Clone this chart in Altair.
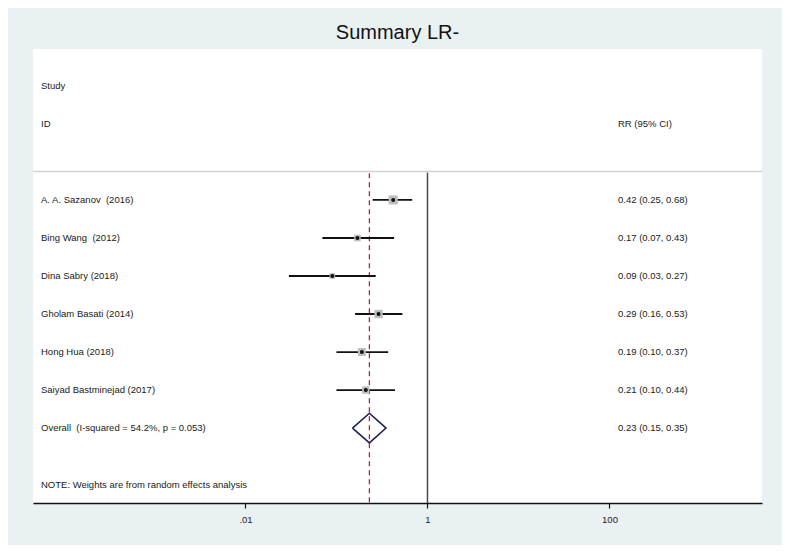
import altair as alt
import pandas as pd

# ---- data ----
studies = ["A. A. Sazanov  (2016)", "Bing Wang  (2012)", "Dina Sabry (2018)",
           "Gholam Basati (2014)", "Hong Hua (2018)", "Saiyad Bastminejad (2017)"]
rr = [0.42, 0.17, 0.09, 0.29, 0.19, 0.21]
lo = [0.25, 0.07, 0.03, 0.16, 0.10, 0.10]
hi = [0.68, 0.43, 0.27, 0.53, 0.37, 0.44]
weights = [23.6, 12.4, 9.4, 20.2, 18.5, 15.9]

overall_label = "Overall  (I-squared = 54.2%, p = 0.053)"
overall_rr, overall_lo, overall_hi = 0.23, 0.15, 0.35
note = "NOTE: Weights are from random effects analysis"
tick_values = [0.01, 1, 100]
tick_labels = [".01", "1", "100"]

FONT = "Liberation Sans"
FS = 9.5


def keep_spaces(s):
    # SVG collapses runs of spaces; keep the double spaces visible
    return s.replace("  ", " \u00a0")


rows = list(range(len(studies)))
overall_row = len(studies)

df = pd.DataFrame({"study": studies, "rr": rr, "lo": lo, "hi": hi,
                   "w": weights, "row": rows})
df["txt"] = [f"{a:.2f} ({b:.2f}, {c:.2f})" for a, b, c in zip(rr, lo, hi)]

df_all = pd.DataFrame({
    "label": [keep_spaces(s) for s in studies + [overall_label]],
    "txt": list(df["txt"]) + [f"{overall_rr:.2f} ({overall_lo:.2f}, {overall_hi:.2f})"],
    "row": rows + [overall_row],
})

dia = pd.DataFrame({
    "x": [overall_lo, overall_rr, overall_hi, overall_rr, overall_lo],
    "y": [overall_row, overall_row - 0.39, overall_row, overall_row + 0.39, overall_row],
    "o": [0, 1, 2, 3, 4],
})

xscale = alt.Scale(type="log", domain=[10 ** -4.335, 10 ** 3.676], nice=False)
yscale = alt.Scale(domain=[-3.97, 7.97], reverse=True, nice=False, zero=False)

label_expr = " : ".join(
    [f"datum.value == {v} ? '{l}'" for v, l in zip(tick_values, tick_labels)] + ["''"]
)
xaxis = alt.Axis(values=tick_values, labelExpr=label_expr, grid=False, title=None,
                 domainColor="#111", domainWidth=1.5, tickColor="#111", tickSize=5,
                 tickWidth=1.2, labelFont=FONT, labelFontSize=FS, labelColor="#222",
                 labelPadding=6)


def X(f):
    return alt.X(f, scale=xscale, axis=xaxis)


def Y(f):
    return alt.Y(f, scale=yscale, axis=None)


base = alt.Chart(df)

vline = alt.Chart(pd.DataFrame({"x": [1.0], "y": [-0.72], "y2": [7.97]})).mark_rule(
    color="#4a4a4a", strokeWidth=1.5).encode(
    x=X("x:Q"), y=Y("y:Q"), y2="y2:Q")

sep = alt.Chart(pd.DataFrame({"r": [-0.75]})).mark_rule(
    color="#d2d2d2", strokeWidth=1.5).encode(
    x=alt.value(0), x2=alt.value(729), y=Y("r:Q"))

rline = alt.Chart(pd.DataFrame({"x": [overall_rr], "y": [-0.7], "y2": [7.97]})).mark_rule(
    color="#b0282a", strokeWidth=1.3, strokeDash=[5, 4]).encode(
    x=X("x:Q"), y=Y("y:Q"), y2="y2:Q")

ci = base.mark_rule(color="#111", strokeWidth=1.8).encode(
    x=X("lo:Q"), x2="hi:Q", y=Y("row:Q"))

squares = base.mark_square(color="#bdbdbd", opacity=1).encode(
    x=X("rr:Q"), y=Y("row:Q"),
    size=alt.Size("w:Q", scale=alt.Scale(domain=[0, 25], range=[0, 86]), legend=None))

dots = base.mark_circle(color="#111", opacity=1, size=16).encode(
    x=X("rr:Q"), y=Y("row:Q"))

diamond = alt.Chart(dia).mark_line(color="#1f2060", strokeWidth=1.6).encode(
    x=X("x:Q"), y=Y("y:Q"), order="o:Q")

txt_kw = dict(align="left", baseline="middle", font=FONT, fontSize=FS, color="#1a1a1a")

labels = alt.Chart(df_all).mark_text(**txt_kw).encode(
    x=alt.value(8), y=Y("row:Q"), text="label:N")

vals = alt.Chart(df_all).mark_text(**txt_kw).encode(
    x=alt.value(585), y=Y("row:Q"), text="txt:N")

hdr_left = alt.Chart(pd.DataFrame({"t": ["Study", "ID"], "row": [-3, -2]})).mark_text(
    **txt_kw).encode(x=alt.value(8), y=Y("row:Q"), text="t:N")

hdr_right = alt.Chart(pd.DataFrame({"t": ["RR (95% CI)"], "row": [-2]})).mark_text(
    **txt_kw).encode(x=alt.value(585), y=Y("row:Q"), text="t:N")

note_t = alt.Chart(pd.DataFrame({"t": [note], "row": [7.5]})).mark_text(
    **txt_kw).encode(x=alt.value(8), y=Y("row:Q"), text="t:N")

chart = alt.layer(
    vline, sep, rline, ci, squares, dots, diamond, labels, vals, hdr_left, hdr_right, note_t
).properties(
    width=729, height=454,
    title=alt.Title("Summary LR-", fontSize=20, font=FONT, fontWeight="normal",
                    color="#111", anchor="middle", offset=6),
    autosize=alt.AutoSizeParams(type="none"),
    padding={"left": 25, "top": 41, "right": 20, "bottom": 42},
    background="#eaf1f3",
).configure_view(stroke=None, fill="white")

chart.save("out.html", embed_options={"renderer": "svg", "actions": False})
